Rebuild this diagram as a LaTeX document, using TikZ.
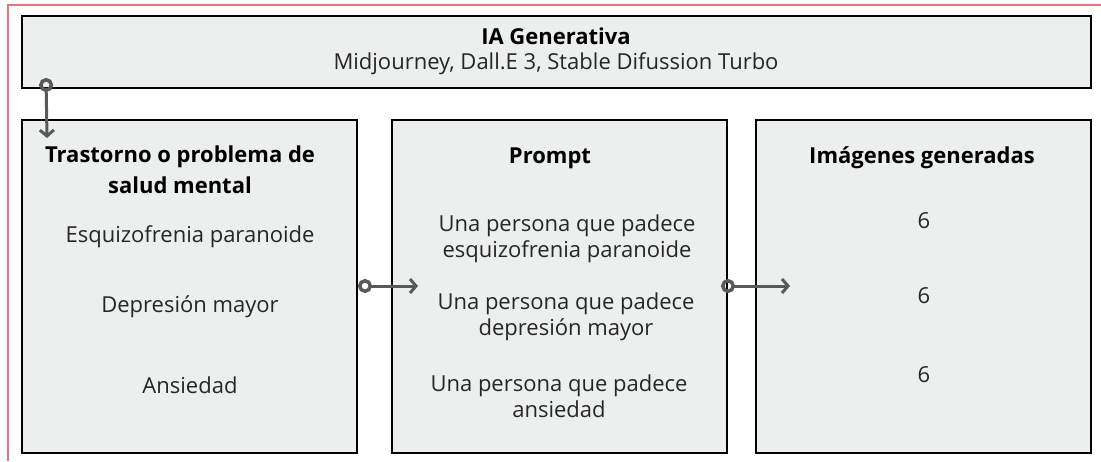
\documentclass[tikz,border=0pt]{standalone}
\usepackage{fontspec}
\setmainfont{Open Sans}
\usepackage{tikz}
\usetikzlibrary{arrows.meta}
\definecolor{boxfill}{HTML}{EDEEEE}
\definecolor{linkgray}{HTML}{58595B}
\definecolor{framered}{HTML}{EB7278}
\tikzset{
	panel/.style={draw=black,line width=2pt,fill=boxfill,inner sep=0pt},
	link/.style={linkgray,line width=3pt,{Circle[open,length=14pt,width=14pt,line width=3.5pt]}-{Straight Barb[length=6pt,width=14pt,line width=3pt]}},
	txt/.style={font=\fontsize{22}{26}\selectfont,text=black!85,align=center,anchor=base,inner sep=0pt},
	head/.style={txt,font=\fontsize{22}{31}\selectfont\bfseries,text=black}
}
\begin{document}
\begin{tikzpicture}[x=1pt,y=-1pt]
		\useasboundingbox (0,0) rectangle (1101,461);
		\draw[framered,line width=1.2pt] (8,461) -- (8,5) -- (1101,5);
		% boxes
		\node[panel,minimum width=1069pt,minimum height=72pt] (ia) at (556.5,52) {};
		\node[panel,minimum width=335pt,minimum height=333pt] (disorder) at (189.5,286.5) {};
		\node[panel,minimum width=335pt,minimum height=333pt] (prompt) at (559.5,286.5) {};
		\node[panel,minimum width=335pt,minimum height=333pt] (images) at (923.5,286.5) {};
		% top box text
		\node[head] (iatitle) at (556,44) {IA Generativa};
		\node[txt] (iatools) at (556,69) {Midjourney, Dall.E 3, Stable Difussion Turbo};
		% disorders
		\node[head] (disordertitle) at (180,193) {Trastorno o problema de\\salud mental};
		\node[txt] (d1) at (190,242) {Esquizofrenia paranoide};
		\node[txt] (d2) at (190,312) {Depresión mayor};
		\node[txt] (d3) at (190,393) {Ansiedad};
		% prompts
		\node[head] (prompttitle) at (550,163) {Prompt};
		\node[txt] (p1) at (567,257) {Una persona que padece\\esquizofrenia paranoide};
		\node[txt] (p2) at (566,335) {Una persona que padece\\depresión mayor};
		\node[txt] (p3) at (559,417) {Una persona que padece\\ansiedad};
		% generated images
		\node[head] (imagestitle) at (922,163) {Imágenes generadas};
		\node[txt] (n1) at (924,228) {6};
		\node[txt] (n2) at (924,303) {6};
		\node[txt] (n3) at (924,382) {6};
		% connectors
		\coordinate (tip0) at (47,138);
		\coordinate (tip1) at (418,286);
		\coordinate (tip2) at (790,286);
		\draw[link] ([xshift=25pt,yshift=11pt]ia.south west) -- (tip0);
		\draw[link] (disorder.east |- tip1) -- (tip1);
		\draw[link] ([xshift=-7pt]prompt.east |- tip2) -- (tip2);
	\end{tikzpicture}
\end{document}
